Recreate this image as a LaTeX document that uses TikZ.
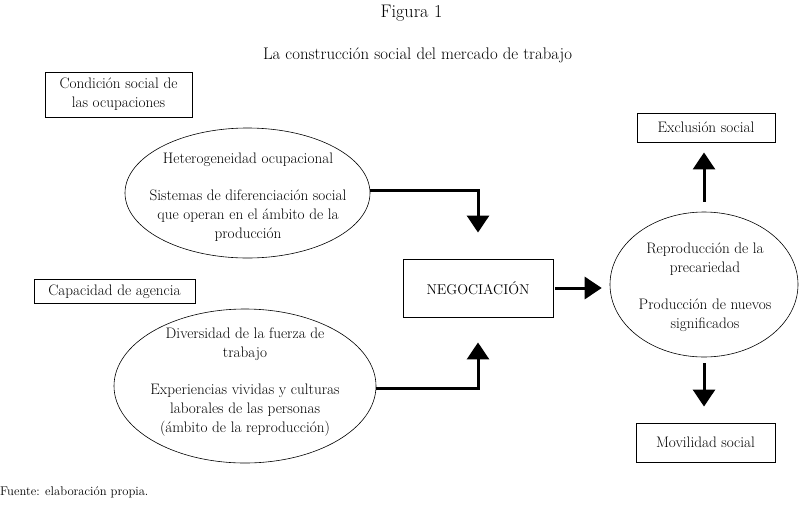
\documentclass[tikz,border=0pt]{standalone}
\usetikzlibrary{shapes.geometric,arrows.meta,calc}
\begin{document}
\begin{tikzpicture}[x=1pt,y=-1pt,
  txt/.style={font=\fontsize{15.2}{19}\selectfont, align=center},
  box/.style={txt, draw, line width=0.9pt, inner sep=0pt},
  ell/.style={txt, draw, ellipse, line width=0.6pt, inner sep=0pt},
  arr/.style={line width=3pt, -{Triangle[width=22pt,length=17pt]}}]
\useasboundingbox (0,0) rectangle (803,504);
\node[font=\fontsize{18.2}{22}\selectfont] (title) at (411.5,13) {Figura 1};
\node[font=\fontsize{16.8}{20}\selectfont] (sub) at (417.5,55) {La construcción social del mercado de trabajo};
\node[box, minimum width=147pt, minimum height=45pt] (cond) at (118.5,94.5) {Condición social de\\las ocupaciones};
\node[ell, minimum width=245pt, minimum height=130pt] (het) at (247.5,193) {};
\node[txt] (hett) at (248,197.5) {Heterogeneidad ocupacional\\[18pt]Sistemas de diferenciación social\\que operan en el ámbito de la\\producción};
\node[box, minimum width=161pt, minimum height=24pt] (ag) at (114.5,291.5) {Capacidad de agencia};
\node[ell, minimum width=262pt, minimum height=154pt] (div) at (245,386) {};
\node[txt] (divt) at (245,382) {Diversidad de la fuerza de\\trabajo\\[18pt]Experiencias vividas y culturas\\laborales de las personas\\(ámbito de la reproducción)};
\node[box, font=\fontsize{14.2}{18}\selectfont, minimum width=150pt, minimum height=58pt] (neg) at (478,288) {NEGOCIACIÓN};
\node[ell, minimum width=188pt, minimum height=145pt] (rep) at (704,284.5) {};
\node[txt] (rept) at (705,287.5) {Reproducción de la\\precariedad\\[18pt]Producción de nuevos\\significados};
\node[box, minimum width=138pt, minimum height=29pt] (exc) at (706,127.5) {Exclusión social};
\node[box, minimum width=139pt, minimum height=39pt] (mov) at (705.5,442.5) {Movilidad social};
\node[anchor=west, font=\fontsize{12.6}{15}\selectfont, inner sep=0pt] (fte) at (0,492) {Fuente: elaboración propia.};
\draw[arr, shorten >=26pt] (het.east |- 0,190) -| (neg.north);
\draw[arr, shorten >=25pt] (div.east |- 0,388) -| (neg.south);
\draw[arr, shorten <=2pt, shorten >=8pt] (neg.east) -- (neg.east -| rep.west);
\draw[arr, shorten <=10pt, shorten >=10pt] (rep.north) -- (rep.north |- exc.south);
\draw[arr, shorten <=6pt, shorten >=16pt] (rep.south) -- (rep.south |- mov.north);
\end{tikzpicture}
\end{document}
